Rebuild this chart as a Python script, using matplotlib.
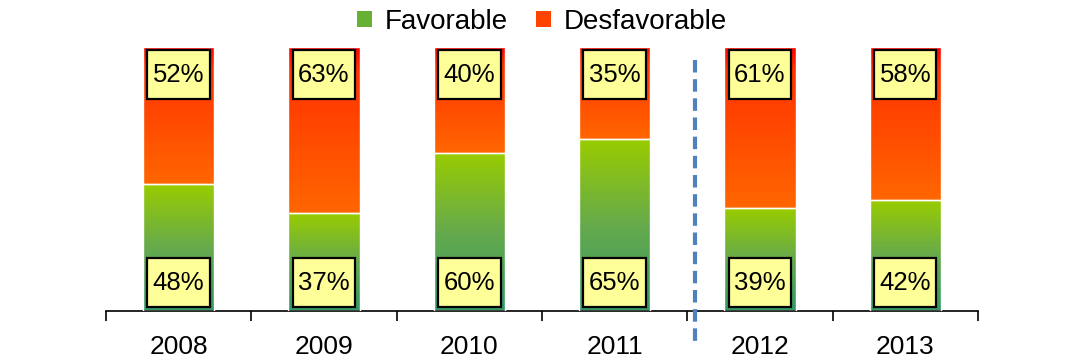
import numpy as np
import matplotlib.pyplot as plt
from matplotlib.colors import LinearSegmentedColormap
from matplotlib.patches import Patch, Rectangle

years = ["2008", "2009", "2010", "2011", "2012", "2013"]
favorable = [48, 37, 60, 65, 39, 42]
desfavorable = [52, 63, 40, 35, 61, 58]

plt.rcParams['font.family'] = ['Liberation Sans', 'DejaVu Sans']

green = LinearSegmentedColormap.from_list("g", ["#339966", "#66aa4c", "#99cc00"])
red = LinearSegmentedColormap.from_list("r", [(0, "#ff6600"), (0.85, "#ff3300"), (1, "#ff0000")])
grad = np.linspace(0, 1, 256).reshape(-1, 1)

fig = plt.figure(figsize=(10.67, 3.62), dpi=100)
ax = fig.add_axes([0.0993, 0.1409, 0.8172, 0.7293])

x = np.arange(len(years))
w = 0.49
ax.bar(x, favorable, w, facecolor="none", edgecolor="white", lw=1, zorder=3)
ax.bar(x, desfavorable, w, bottom=favorable, facecolor="none", edgecolor="white", lw=1, zorder=3)

# gradient fill for each segment
for xi, f, d in zip(x, favorable, desfavorable):
    ax.imshow(grad, cmap=green, origin="lower", aspect="auto",
              extent=[xi - w/2, xi + w/2, 0, f], zorder=2)
    ax.imshow(grad, cmap=red, origin="lower", aspect="auto",
              extent=[xi - w/2, xi + w/2, f, f + d], zorder=2)

# yellow label boxes
bw, bh = 0.43, 18.6
for xi, f, d in zip(x, favorable, desfavorable):
    for yc, v in [(10.8, f), (89.6, d)]:
        ax.add_patch(Rectangle((xi - bw/2, yc - bh/2), bw, bh, fc="#ffff99",
                               ec="black", lw=1.6, zorder=4))
        ax.text(xi, yc - 0.3, f"{v}%", ha="center", va="center", fontsize=18.5, zorder=5)

ax.plot([3.55, 3.55], [95, -13], ls=(0, (3, 1.6)), color="#4f81bd", lw=3,
        clip_on=False, zorder=6)

ax.set_xlim(-0.5, len(years) - 0.5)
ax.set_ylim(0, 100)
ax.set_xticks(x)
ax.set_xticklabels(years, fontsize=19)
ax.tick_params(axis="x", length=0, pad=17)
ax.set_xticks(np.arange(-0.5, len(years)), minor=True)
ax.tick_params(axis="x", which="minor", length=7, width=1.2, direction="out")
ax.set_yticks([])
for s in ["left", "right", "top"]:
    ax.spines[s].set_visible(False)
ax.spines["bottom"].set_linewidth(1.2)

handles = [Patch(facecolor="#66b033", label="Favorable"),
           Patch(facecolor="#ff4400", label="Desfavorable")]
fig.legend(handles=handles, loc="center", bbox_to_anchor=(0.508, 0.94), ncol=2,
           frameon=False, fontsize=20, handlelength=0.55, handleheight=0.55,
           handletextpad=0.45, columnspacing=1.0)

fig.savefig("out.png", dpi=100)
